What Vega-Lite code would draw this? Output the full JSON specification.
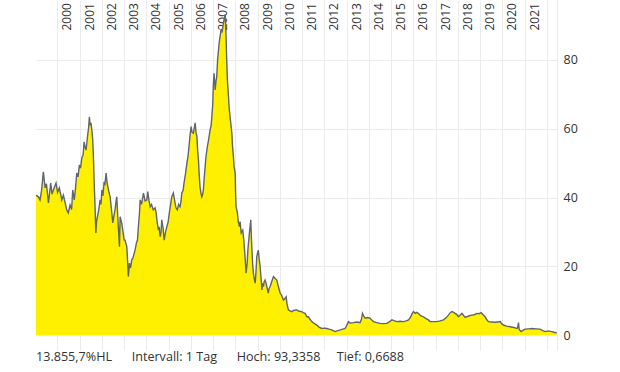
{
  "$schema": "https://vega.github.io/schema/vega-lite/v6.json",
  "width": 521,
  "height": 350,
  "autosize": {"type": "none"},
  "padding": {"left": 36, "top": 0, "right": 63, "bottom": 22},
  "background": "white",
  "config": {"view": {"stroke": null}},
  "title": {
    "text": "13.855,7%HL\u00a0\u00a0\u00a0\u00a0\u00a0\u00a0Intervall: 1 Tag\u00a0\u00a0\u00a0\u00a0\u00a0\u00a0Hoch: 93,3358\u00a0\u00a0\u00a0\u00a0\u00a0Tief: 0,6688",
    "orient": "bottom", "anchor": "start", "frame": "group",
    "font": "Open Sans", "fontSize": 12.6, "fontWeight": "normal", "color": "#333333", "offset": 1
  },
  "data": {"values": [
    {"t":1999.04,"v":40.7},{"t":1999.15,"v":40.2},{"t":1999.22,"v":39.3},{"t":1999.29,"v":42},{"t":1999.37,"v":47.5},{"t":1999.45,"v":42.8},{"t":1999.51,"v":44},{"t":1999.60,"v":38.4},{"t":1999.70,"v":44.2},{"t":1999.76,"v":41},{"t":1999.82,"v":42.2},{"t":1999.94,"v":44.2},
    {"t":2000.01,"v":41.5},{"t":2000.09,"v":42.8},{"t":2000.20,"v":39.3},{"t":2000.27,"v":40.7},{"t":2000.35,"v":38.5},{"t":2000.42,"v":36.4},{"t":2000.49,"v":35.5},{"t":2000.57,"v":37.8},{"t":2000.64,"v":36.5},{"t":2000.69,"v":42.2},{"t":2000.76,"v":39.3},{"t":2000.82,"v":43},{"t":2000.87,"v":47.1},{"t":2000.93,"v":46},{"t":2000.99,"v":49.5},
    {"t":2001.04,"v":48.5},{"t":2001.10,"v":51.5},{"t":2001.16,"v":52.5},{"t":2001.20,"v":56.2},{"t":2001.25,"v":54.5},{"t":2001.29,"v":53.8},{"t":2001.37,"v":58.7},{"t":2001.40,"v":60},{"t":2001.44,"v":63.5},{"t":2001.47,"v":61},{"t":2001.51,"v":61.7},{"t":2001.56,"v":59},{"t":2001.59,"v":56.7},{"t":2001.63,"v":50},{"t":2001.65,"v":45.1},{"t":2001.69,"v":38},{"t":2001.73,"v":29.7},{"t":2001.76,"v":33},{"t":2001.80,"v":34.4},{"t":2001.85,"v":36},{"t":2001.92,"v":39.3},{"t":2001.96,"v":38},
    {"t":2002.00,"v":42.2},{"t":2002.05,"v":40.5},{"t":2002.10,"v":44.6},{"t":2002.14,"v":44},{"t":2002.19,"v":47.1},{"t":2002.23,"v":44.5},{"t":2002.27,"v":43.1},{"t":2002.32,"v":41.5},{"t":2002.37,"v":40.2},{"t":2002.44,"v":36},{"t":2002.49,"v":32.6},{"t":2002.55,"v":35},{"t":2002.59,"v":36.4},{"t":2002.64,"v":39},{"t":2002.67,"v":40.2},{"t":2002.71,"v":35},{"t":2002.74,"v":31.5},{"t":2002.79,"v":25.7},{"t":2002.82,"v":34.4},{"t":2002.89,"v":32.6},{"t":2002.95,"v":30},
    {"t":2003.00,"v":27.6},{"t":2003.04,"v":27.6},{"t":2003.12,"v":25.7},{"t":2003.16,"v":21},{"t":2003.19,"v":17},{"t":2003.24,"v":20.9},{"t":2003.29,"v":19.5},{"t":2003.34,"v":21.8},{"t":2003.40,"v":22.5},{"t":2003.49,"v":24.7},{"t":2003.56,"v":27},{"t":2003.60,"v":27.6},{"t":2003.64,"v":31.5},{"t":2003.69,"v":35.5},{"t":2003.72,"v":39.3},{"t":2003.78,"v":38},{"t":2003.87,"v":41.3},{"t":2003.94,"v":39},
    {"t":2004.02,"v":39.3},{"t":2004.06,"v":41.7},{"t":2004.12,"v":39},{"t":2004.17,"v":37.3},{"t":2004.23,"v":38},{"t":2004.31,"v":36.4},{"t":2004.39,"v":37},{"t":2004.44,"v":35.5},{"t":2004.48,"v":33},{"t":2004.54,"v":30.5},{"t":2004.57,"v":31.5},{"t":2004.62,"v":28.6},{"t":2004.66,"v":30},{"t":2004.69,"v":33.5},{"t":2004.75,"v":31},{"t":2004.80,"v":27.6},{"t":2004.86,"v":30},{"t":2004.92,"v":31.5},{"t":2004.98,"v":33},
    {"t":2005.03,"v":35.5},{"t":2005.09,"v":38},{"t":2005.14,"v":40.2},{"t":2005.21,"v":41.3},{"t":2005.29,"v":38.4},{"t":2005.33,"v":37},{"t":2005.39,"v":36.4},{"t":2005.45,"v":38},{"t":2005.51,"v":37.3},{"t":2005.56,"v":39},{"t":2005.59,"v":41.3},{"t":2005.65,"v":42},{"t":2005.69,"v":44.2},{"t":2005.76,"v":47},{"t":2005.82,"v":50},{"t":2005.87,"v":52},{"t":2005.93,"v":55.8},{"t":2005.96,"v":58},
    {"t":2006.01,"v":60.6},{"t":2006.05,"v":59},{"t":2006.11,"v":58.7},{"t":2006.19,"v":61.7},{"t":2006.23,"v":59},{"t":2006.27,"v":57.7},{"t":2006.30,"v":54},{"t":2006.34,"v":50.9},{"t":2006.37,"v":47},{"t":2006.41,"v":43.1},{"t":2006.46,"v":41},{"t":2006.49,"v":40.2},{"t":2006.53,"v":41},{"t":2006.56,"v":42.2},{"t":2006.59,"v":45},{"t":2006.64,"v":49},{"t":2006.68,"v":52},{"t":2006.74,"v":54.8},{"t":2006.80,"v":57},{"t":2006.86,"v":59.6},{"t":2006.91,"v":61},{"t":2006.94,"v":63.5},{"t":2006.98,"v":67},
    {"t":2007.01,"v":73},{"t":2007.04,"v":76.1},{"t":2007.09,"v":71.3},{"t":2007.13,"v":74},{"t":2007.16,"v":75.1},{"t":2007.20,"v":80},{"t":2007.24,"v":82.9},{"t":2007.27,"v":85},{"t":2007.31,"v":86.8},{"t":2007.36,"v":89},{"t":2007.40,"v":88},{"t":2007.46,"v":90.7},{"t":2007.50,"v":92},{"t":2007.54,"v":93.3},{"t":2007.56,"v":90},{"t":2007.58,"v":86.8},{"t":2007.61,"v":80},{"t":2007.64,"v":74.2},{"t":2007.69,"v":69.3},{"t":2007.72,"v":66},{"t":2007.76,"v":63.5},{"t":2007.81,"v":60.5},{"t":2007.84,"v":58.7},{"t":2007.87,"v":55},{"t":2007.91,"v":51.9},{"t":2007.94,"v":49},{"t":2007.99,"v":47},
    {"t":2008.01,"v":41},{"t":2008.03,"v":37.3},{"t":2008.09,"v":35.5},{"t":2008.13,"v":33},{"t":2008.18,"v":31.5},{"t":2008.21,"v":33},{"t":2008.26,"v":29.7},{"t":2008.33,"v":30.5},{"t":2008.37,"v":28},{"t":2008.40,"v":25.7},{"t":2008.44,"v":22},{"t":2008.48,"v":18},{"t":2008.53,"v":21},{"t":2008.56,"v":24.7},{"t":2008.59,"v":27},{"t":2008.63,"v":29.7},{"t":2008.69,"v":33.5},{"t":2008.72,"v":28},{"t":2008.75,"v":23.9},{"t":2008.78,"v":20},{"t":2008.81,"v":18},{"t":2008.84,"v":16.5},{"t":2008.89,"v":15.1},{"t":2008.93,"v":19},{"t":2008.96,"v":22.8},
    {"t":2009.00,"v":24},{"t":2009.03,"v":24.7},{"t":2009.07,"v":22},{"t":2009.11,"v":19.9},{"t":2009.16,"v":16},{"t":2009.19,"v":13.1},{"t":2009.22,"v":15},{"t":2009.26,"v":14.1},{"t":2009.29,"v":15.5},{"t":2009.33,"v":16},{"t":2009.38,"v":15},{"t":2009.41,"v":14.1},{"t":2009.45,"v":13},{"t":2009.48,"v":12.2},{"t":2009.51,"v":13.5},{"t":2009.56,"v":14.1},{"t":2009.63,"v":15.5},{"t":2009.71,"v":17},{"t":2009.78,"v":16.5},{"t":2009.86,"v":16},{"t":2009.93,"v":14.1},
    {"t":2010.01,"v":12.2},{"t":2010.08,"v":11.5},{"t":2010.16,"v":10.2},{"t":2010.21,"v":10.5},{"t":2010.28,"v":11.1},{"t":2010.32,"v":9},{"t":2010.38,"v":7.3},{"t":2010.46,"v":7},{"t":2010.53,"v":6.8},{"t":2010.64,"v":7.2},{"t":2010.76,"v":7.3},{"t":2010.86,"v":6.9},{"t":2010.98,"v":6.8},
    {"t":2011.04,"v":6.5},{"t":2011.13,"v":6.3},{"t":2011.21,"v":5.3},{"t":2011.28,"v":5.3},{"t":2011.36,"v":4.5},{"t":2011.43,"v":3.9},{"t":2011.54,"v":3.4},{"t":2011.66,"v":2.9},{"t":2011.76,"v":2.3},{"t":2011.88,"v":1.9},{"t":2011.99,"v":2.0},
    {"t":2012.11,"v":1.9},{"t":2012.21,"v":1.7},{"t":2012.33,"v":1.5},{"t":2012.39,"v":1.3},{"t":2012.48,"v":1.0},{"t":2012.59,"v":1.3},{"t":2012.71,"v":1.5},{"t":2012.82,"v":1.7},{"t":2012.93,"v":1.9},
    {"t":2013.00,"v":2.8},{"t":2013.08,"v":3.9},{"t":2013.16,"v":3.5},{"t":2013.30,"v":3.6},{"t":2013.46,"v":3.8},{"t":2013.60,"v":3.6},{"t":2013.66,"v":4.5},{"t":2013.71,"v":6.3},{"t":2013.76,"v":5.6},{"t":2013.83,"v":4.9},{"t":2013.94,"v":5.1},
    {"t":2014.05,"v":4.9},{"t":2014.12,"v":4.4},{"t":2014.20,"v":3.9},{"t":2014.36,"v":3.6},{"t":2014.50,"v":3.4},{"t":2014.65,"v":3.3},{"t":2014.80,"v":3.4},{"t":2014.91,"v":3.8},
    {"t":2015.03,"v":4.4},{"t":2015.13,"v":4.2},{"t":2015.25,"v":3.9},{"t":2015.40,"v":4.0},{"t":2015.55,"v":3.9},{"t":2015.67,"v":4.1},{"t":2015.78,"v":4.4},{"t":2015.87,"v":5.2},{"t":2015.94,"v":6.2},
    {"t":2016.00,"v":6.8},{"t":2016.08,"v":6.3},{"t":2016.14,"v":6.6},{"t":2016.22,"v":6.3},{"t":2016.32,"v":5.6},{"t":2016.45,"v":5.3},{"t":2016.53,"v":4.9},{"t":2016.67,"v":4.4},{"t":2016.75,"v":3.9},{"t":2016.89,"v":3.9},
    {"t":2017.05,"v":3.9},{"t":2017.20,"v":4.1},{"t":2017.35,"v":4.4},{"t":2017.47,"v":5.0},{"t":2017.57,"v":5.8},{"t":2017.65,"v":6.5},{"t":2017.73,"v":6.8},{"t":2017.81,"v":6.6},{"t":2017.87,"v":6.3},{"t":2017.94,"v":6.0},
    {"t":2018.02,"v":5.3},{"t":2018.10,"v":5.8},{"t":2018.18,"v":6.3},{"t":2018.26,"v":5.6},{"t":2018.32,"v":5.2},{"t":2018.40,"v":5.3},{"t":2018.50,"v":5.6},{"t":2018.63,"v":5.8},{"t":2018.73,"v":5.9},{"t":2018.85,"v":6.3},{"t":2018.95,"v":6.2},
    {"t":2019.04,"v":6.5},{"t":2019.13,"v":5.9},{"t":2019.22,"v":5.3},{"t":2019.29,"v":4.5},{"t":2019.37,"v":3.9},{"t":2019.51,"v":3.8},{"t":2019.67,"v":3.7},{"t":2019.78,"v":3.8},{"t":2019.90,"v":3.9},{"t":2019.96,"v":3.3},
    {"t":2020.04,"v":2.9},{"t":2020.19,"v":2.6},{"t":2020.35,"v":2.4},{"t":2020.50,"v":2.2},{"t":2020.65,"v":1.9},{"t":2020.68,"v":2.1},{"t":2020.72,"v":3.6},{"t":2020.75,"v":1.6},{"t":2020.84,"v":1.0},{"t":2020.93,"v":1.4},
    {"t":2021.02,"v":1.7},{"t":2021.18,"v":1.8},{"t":2021.32,"v":1.9},{"t":2021.51,"v":1.8},{"t":2021.69,"v":1.7},{"t":2021.81,"v":1.3},{"t":2021.92,"v":1.0},
    {"t":2022.05,"v":1.2},{"t":2022.22,"v":1.0},{"t":2022.32,"v":0.8},{"t":2022.44,"v":0.67}
  ]},
  "mark": {"type": "area", "color": "#fff000", "opacity": 1, "fillOpacity": 1, "line": {"color": "#5f666d", "strokeWidth": 1.4}},
  "encoding": {
    "x": {
      "field": "t", "type": "quantitative",
      "scale": {"domain": [1999.04, 2022.45], "nice": false, "zero": false},
      "axis": {
        "orient": "top", "title": null,
        "values": [2000,2001,2002,2003,2004,2005,2006,2007,2008,2009,2010,2011,2012,2013,2014,2015,2016,2017,2018,2019,2020,2021,2022],
        "labelExpr": "datum.value > 2021 ? '' : '' + datum.value",
        "labelAngle": -90, "labelOffset": 9.5, "labelPadding": 2,
        "ticks": false, "tickSize": 0, "domain": false, "offset": -32,
        "grid": true, "gridColor": "#ebebeb", "gridWidth": 1,
        "labelFont": "Open Sans", "labelFontSize": 12, "labelColor": "#333333",
        "labelOverlap": false, "labelBound": false, "labelFlush": false
      }
    },
    "y": {
      "field": "v", "type": "quantitative",
      "scale": {"domain": [-4.36, 97.45], "nice": false, "zero": false},
      "axis": {
        "orient": "right", "title": null,
        "values": [0, 20, 40, 60, 80],
        "ticks": false, "domain": true, "domainColor": "#ebebeb",
        "grid": true, "gridColor": "#ebebeb", "gridWidth": 1,
        "labelPadding": 6, "labelFont": "Open Sans", "labelFontSize": 12.5, "labelColor": "#333333"
      }
    },
    "y2": {"datum": 0}
  }
}
